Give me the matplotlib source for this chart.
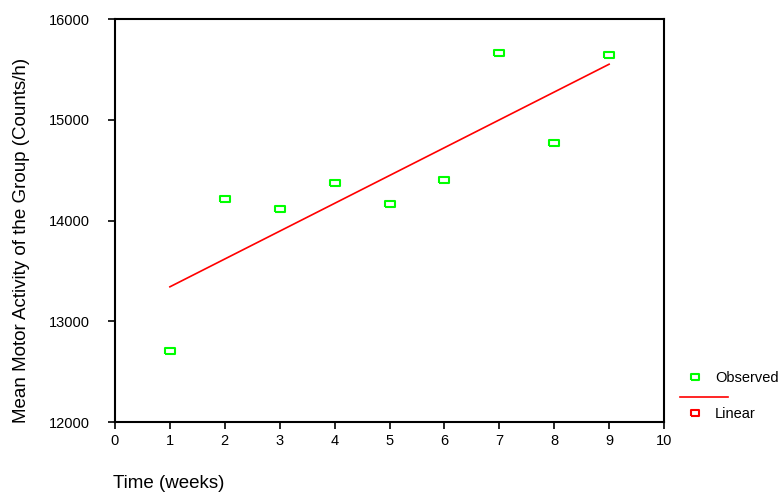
import matplotlib
matplotlib.use('Agg')
import matplotlib.pyplot as plt
import numpy as np

plt.rcParams['font.family'] = ['Liberation Sans', 'DejaVu Sans']

# --- Data ---
weeks = [1, 2, 3, 4, 5, 6, 7, 8, 9]
observed = [12700, 14210, 14110, 14370, 14160, 14400, 15660, 14770, 15640]
x_ticks = [0, 1, 2, 3, 4, 5, 6, 7, 8, 9, 10]
y_ticks = [12000, 13000, 14000, 15000, 16000]

GREEN = '#00ff00'
RED = '#ff0000'
# wide hollow rectangle marker
RECT = [(-1.4, -1), (1.4, -1), (1.4, 1), (-1.4, 1), (-1.4, -1)]

fig = plt.figure(figsize=(7.78, 4.94), dpi=100)
ax = fig.add_axes([0.1478, 0.1457, 0.7057, 0.8158])

# linear fit of the observed means
slope, icpt = np.polyfit(weeks, observed, 1)
fit = [slope * w + icpt for w in weeks]
ax.plot(weeks, fit, color=RED, linewidth=1.2, zorder=2)
ax.plot(weeks, observed, linestyle='none', marker=RECT, markersize=6.5,
        markerfacecolor='white', markeredgecolor=GREEN, markeredgewidth=1.5, zorder=3)

ax.set_xlim(0, 10)
ax.set_ylim(12000, 16000)
ax.set_xticks(x_ticks)
ax.set_yticks(y_ticks)
ax.tick_params(direction='out', length=5, width=1.2, labelsize=10.5, top=False, right=False)
ax.tick_params(axis='y', pad=13)
for s in ax.spines.values():
    s.set_linewidth(1.5)

fig.text(22 / 778, 1 - 240 / 494, 'Mean Motor Activity of the Group (Counts/h)', fontsize=13.5,
         rotation=90, ha='center', va='center')
fig.text(113 / 778, 1 - 483 / 494, 'Time (weeks)', fontsize=13.5, ha='left', va='center')

# --- Legend (drawn by hand, outside the plot) ---
def fx(px):
    return px / 778

def fy(py):
    return 1 - py / 494

fig.lines.append(plt.Line2D([fx(695)], [fy(377)], marker=RECT, markersize=6, linestyle='none',
                            markerfacecolor='white', markeredgecolor=GREEN, markeredgewidth=1.5,
                            transform=fig.transFigure))
fig.text(fx(715), fy(378), 'Observed', fontsize=10.5, ha='left', va='center')
fig.lines.append(plt.Line2D([fx(680), fx(728)], [fy(397), fy(397)], color=RED, linewidth=1.2,
                            transform=fig.transFigure))
fig.lines.append(plt.Line2D([fx(695)], [fy(413)], marker=RECT, markersize=6, linestyle='none',
                            markerfacecolor='white', markeredgecolor=RED, markeredgewidth=1.5,
                            transform=fig.transFigure))
fig.text(fx(715), fy(414), 'Linear', fontsize=10.5, ha='left', va='center')

plt.savefig('out.png', dpi=100, facecolor='white')
plt.close()
